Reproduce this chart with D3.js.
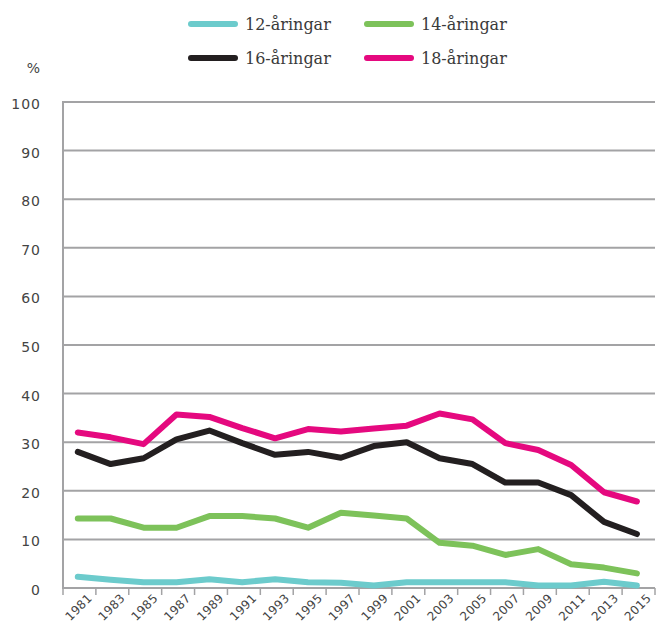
<!DOCTYPE html>
<html>
<head>
<meta charset="utf-8">
<script src="https://cdn.jsdelivr.net/npm/d3@7"></script>
<style>
  body { margin: 0; background: #fff; }
  svg text { font-family: "DejaVu Sans", sans-serif; }
</style>
</head>
<body>
<svg id="chart"></svg>
<script>
// data
const years = [1981, 1983, 1985, 1987, 1989, 1991, 1993, 1995, 1997, 1999, 2001, 2003, 2005, 2007, 2009, 2011, 2013, 2015];
const age12 = [2.3, 1.7, 1.2, 1.2, 1.8, 1.2, 1.8, 1.2, 1.1, 0.5, 1.2, 1.2, 1.2, 1.2, 0.5, 0.5, 1.3, 0.5];
const age14 = [14.3, 14.3, 12.4, 12.4, 14.8, 14.8, 14.3, 12.4, 15.5, 14.9, 14.3, 9.3, 8.7, 6.8, 8.0, 4.9, 4.2, 3.0];
const age16 = [28.0, 25.5, 26.7, 30.6, 32.4, 29.8, 27.4, 28.0, 26.8, 29.2, 30.0, 26.7, 25.5, 21.7, 21.7, 19.1, 13.6, 11.1];
const age18 = [32.0, 31.0, 29.6, 35.7, 35.2, 32.9, 30.8, 32.7, 32.2, 32.8, 33.4, 35.9, 34.7, 29.8, 28.4, 25.3, 19.7, 17.8];
const seriesNames = ["12-åringar", "14-åringar", "16-åringar", "18-åringar"];
const seriesColors = ["#6ccbcc", "#7dc25a", "#231f20", "#e5097f"];
const yTicks = [0, 10, 20, 30, 40, 50, 60, 70, 80, 90, 100];

// constants
const width = 656;
const height = 626;
const plot = { left: 63, right: 655, top: 102, bottom: 588 };

const svg = d3.select('svg#chart').attr('width', width).attr('height', height);

const series = [age12, age14, age16, age18].map((vals, i) => ({
  name: seriesNames[i],
  color: seriesColors[i],
  values: vals.map((v, j) => ({ year: years[j], value: v }))
}));

const xBand = d3.scaleBand().domain(years).range([plot.left, plot.right]).padding(0);
const x = d => xBand(d) + xBand.step() * 0.45;
const y = d3.scaleLinear().domain([0, 100]).range([plot.bottom, plot.top]);

// gridlines
svg.append("g")
  .selectAll("line")
  .data(yTicks.filter(d => d > 0))
  .join("line")
    .attr("x1", plot.left)
    .attr("x2", plot.right)
    .attr("y1", d => y(d))
    .attr("y2", d => y(d))
    .attr("stroke", "#a3a3a5")
    .attr("stroke-width", 2);

// y axis line + labels
svg.append("line")
  .attr("x1", plot.left).attr("x2", plot.left)
  .attr("y1", plot.top - 1).attr("y2", plot.bottom + 1)
  .attr("stroke", "#a3a3a5").attr("stroke-width", 2);

svg.append("g")
  .selectAll("text")
  .data(yTicks)
  .join("text")
    .attr("x", 41)
    .attr("y", d => y(d) + 7)
    .attr("text-anchor", "end")
    .attr("font-size", 14)
    .attr("letter-spacing", 1)
    .attr("fill", "#444")
    .text(d => d);

svg.append("text")
  .attr("x", 40).attr("y", 73)
  .attr("text-anchor", "end")
  .attr("font-size", 14)
  .attr("fill", "#444")
  .text("%");

// x axis
const xAxis = svg.append("g");
xAxis.append("line")
  .attr("x1", plot.left).attr("x2", plot.right)
  .attr("y1", plot.bottom).attr("y2", plot.bottom)
  .attr("stroke", "#a3a3a5").attr("stroke-width", 2);

xAxis.selectAll("line.tick")
  .data(years.concat(["end"]))
  .join("line")
    .attr("class", "tick")
    .attr("x1", d => d === "end" ? plot.right : xBand(d))
    .attr("x2", d => d === "end" ? plot.right : xBand(d))
    .attr("y1", plot.bottom)
    .attr("y2", plot.bottom + 7)
    .attr("stroke", "#a3a3a5")
    .attr("stroke-width", 1.5);

// year labels, rotated
xAxis.selectAll("text")
  .data(years)
  .join("text")
    .attr("transform", d => "translate(" + (x(d) + 15) + "," + 599 + ") rotate(-45)")
    .attr("text-anchor", "end")
    .attr("font-size", 12)
    .attr("letter-spacing", 0.3)
    .attr("fill", "#444")
    .text(d => d);

// lines
const line = d3.line()
  .x(d => x(d.year))
  .y(d => y(d.value));

svg.append("g")
  .selectAll("path")
  .data(series)
  .join("path")
    .attr("d", d => line(d.values))
    .attr("fill", "none")
    .attr("stroke", d => d.color)
    .attr("stroke-width", 6)
    .attr("stroke-linejoin", "round")
    .attr("stroke-linecap", "round");

// legend
const legendPos = [[191, 24], [367, 24], [191, 58], [367, 58]];
const legend = svg.append("g")
  .selectAll("g")
  .data(series)
  .join("g")
    .attr("transform", (d, i) => "translate(" + legendPos[i][0] + "," + legendPos[i][1] + ")");

legend.append("line")
  .attr("x1", 0).attr("x2", 44)
  .attr("y1", 0).attr("y2", 0)
  .attr("stroke", d => d.color)
  .attr("stroke-width", 6)
  .attr("stroke-linecap", "round");

legend.append("text")
  .attr("x", 54)
  .attr("y", 6)
  .attr("font-size", 16)
  .style("font-family", '"DejaVu Serif", serif')
  .attr("fill", "#3a3a3a")
  .text(d => d.name);
</script>
</body>
</html>
